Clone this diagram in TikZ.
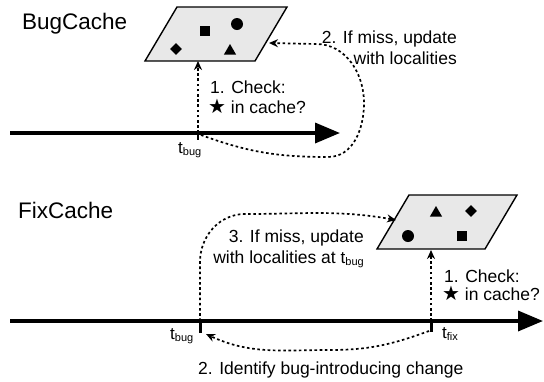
\documentclass[tikz,border=0pt]{standalone}
\usepackage{fontspec}
\setmainfont{Liberation Sans}
\newfontfamily\symfont{DejaVu Sans}
\usetikzlibrary{arrows.meta,shapes.geometric}
\newcommand{\tsub}[1]{{\fontsize{17}{17}\selectfont t}\raisebox{-2pt}{\fontsize{11}{11}\selectfont #1}}
\newcommand{\bigstar}{{\symfont\fontsize{20}{20}\selectfont ★}}
\tikzset{
  lbl/.style={inner sep=0pt, font=\fontsize{17.5}{21}\selectfont},
  ttl/.style={inner sep=0pt, font=\fontsize{22.5}{27}\selectfont, anchor=base west},
  tlabel/.style={inner sep=0pt, anchor=base west},
  timeline/.style={line width=3.5pt, -{Triangle[length=25pt,width=20pt]}},
  cache/.style={draw, line width=1.4pt, fill=gray!18, line join=miter},
  dots/.style={line width=1.7pt, dash pattern=on 2.6pt off 2.6pt, -{Stealth[length=9pt,width=8pt]}},
  tickmark/.style={line width=3pt},
  sym/.style={fill=black, draw=none, inner sep=0pt}
}
\begin{document}
\begin{tikzpicture}[x=1pt,y=-1pt]
\useasboundingbox (0,0) rectangle (544,381);

% ---------- BugCache ----------
\node[ttl] (bugtitle) at (22,29) {BugCache};

\coordinate (p1bl) at (145,61);
\coordinate (p1br) at (255,61);
\coordinate (p1tr) at (287,7);
\coordinate (p1tl) at (177,7);
\draw[cache] (p1bl) -- (p1br) -- (p1tr) -- (p1tl) -- cycle;
\node[sym, rectangle, minimum size=10pt] (b1sq) at (205,31) {};
\node[sym, circle, minimum size=12pt] (b1ci) at (237,24) {};
\node[sym, diamond, minimum size=12pt] (b1di) at (176,49) {};
\node[sym, regular polygon, regular polygon sides=3, minimum size=14pt] (b1tr) at (230,51) {};

\coordinate (tl1s) at (10,133);
\coordinate (tl1e) at (340,133);
\draw[timeline] (tl1s) -- (tl1e);
\coordinate (tb1) at (198,133);
\coordinate (tb1d) at (198,140);
\draw[line width=2pt] (tb1) -- (tb1d);
\node[tlabel] (tb1lbl) at (178,153) {\tsub{bug}};

\coordinate (c1in) at (198,61);
\draw[dots] (tb1) -- (c1in);
\node[lbl, anchor=base west] (chk1a) at (210,93) {1. Check:};
\node[lbl, anchor=base west] (chk1b) at (208,113) {\bigstar\ in cache?};

\coordinate (loop1s) at (201,135);
\coordinate (loop1e) at (269,43);
\draw[dots] (loop1s) to[out=-20,in=180] (328,157) to[out=0,in=-90] (364,103)
  to[out=90,in=0] (316,44) -- (loop1e);
\node[lbl, anchor=base east] (upd1a) at (457,43) {2. If miss, update};
\node[lbl, anchor=base east] (upd1b) at (457,64) {with localities};

% ---------- FixCache ----------
\node[ttl] (fixtitle) at (18,218) {FixCache};

\coordinate (p2bl) at (377,249);
\coordinate (p2br) at (485,249);
\coordinate (p2tr) at (517,195);
\coordinate (p2tl) at (409,195);
\draw[cache] (p2bl) -- (p2br) -- (p2tr) -- (p2tl) -- cycle;
\node[sym, regular polygon, regular polygon sides=3, minimum size=14pt] (f2tr) at (436,213) {};
\node[sym, diamond, minimum size=12pt] (f2di) at (471,211) {};
\node[sym, circle, minimum size=12pt] (f2ci) at (408,236) {};
\node[sym, rectangle, minimum size=10pt] (f2sq) at (462,236) {};

\coordinate (tl2s) at (10,321);
\coordinate (tl2e) at (543,321);
\draw[timeline] (tl2s) -- (tl2e);

\coordinate (tb2) at (200,321);
\coordinate (tb2d) at (200,333);
\draw[tickmark] (tb2) -- (tb2d);
\node[tlabel] (tb2lbl) at (170,339) {\tsub{bug}};

\coordinate (tf2) at (431,321);
\coordinate (tf2d) at (431,332);
\draw[tickmark] (tf2) -- (tf2d);
\node[tlabel] (tf2lbl) at (442,338) {\tsub{fix}};

\coordinate (c2in) at (431,250);
\draw[dots] (tf2) -- (c2in);
\node[lbl, anchor=base west] (chk2a) at (444,282) {1. Check:};
\node[lbl, anchor=base west] (chk2b) at (442,300) {\bigstar\ in cache?};

\coordinate (loop3e) at (396,220);
\draw[dots] (tb2) -- (200,262) to[out=90,in=180] (245,214) to[out=0,in=170] (loop3e);
\node[lbl, anchor=base east] (upd2a) at (364,242) {3. If miss, update};
\node[lbl, anchor=base east] (upd2b) at (364,263) {with localities at \tsub{bug}};

\coordinate (loop2s) at (429,331);
\coordinate (loop2e) at (206,334);
\draw[dots] (loop2s) to[out=200,in=0] (330,350) to[out=180,in=-25] (loop2e);
\node[lbl, anchor=base west] (ident) at (198,374) {2. Identify bug-introducing change};
\end{tikzpicture}
\end{document}
